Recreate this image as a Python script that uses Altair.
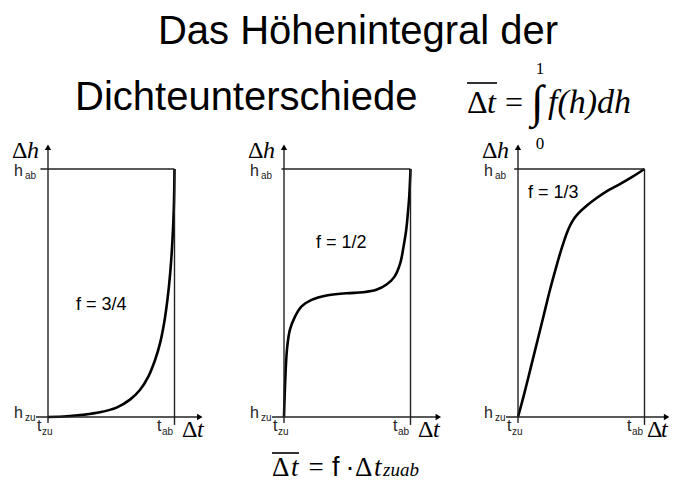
import altair as alt
import pandas as pd

# ---------------- data ----------------
TITLE_LINE1 = "Das Höhenintegral der"
TITLE_LINE2 = "Dichteunterschiede"
F_LABELS = ["f = 3/4", "f = 1/2", "f = 1/3"]

# normalised curves: t = Δt / Δt_zuab , h = Δh / Δh_zuab
T1 = [0, 0.15, 0.278, 0.41, 0.542, 0.648, 0.728, 0.794, 0.847, 0.886, 0.918, 0.944, 0.966, 0.984, 0.995, 1.0]
H1 = [0, 0.003, 0.009, 0.019, 0.038, 0.07, 0.11, 0.164, 0.231, 0.298, 0.379, 0.472, 0.58, 0.714, 0.848, 1.0]
T2 = [0, 0.005, 0.016, 0.026, 0.047, 0.087, 0.139, 0.218, 0.336, 0.493, 0.625, 0.73, 0.808, 0.874, 0.919, 0.945, 0.966, 0.979, 0.99, 1.0]
H2 = [0, 0.083, 0.217, 0.285, 0.352, 0.405, 0.446, 0.472, 0.49, 0.499, 0.503, 0.513, 0.533, 0.566, 0.62, 0.687, 0.754, 0.821, 0.889, 1.0]
T3 = [0, 0.044, 0.097, 0.149, 0.201, 0.253, 0.305, 0.33, 0.358, 0.385, 0.41, 0.44, 0.475, 0.54, 0.619, 0.697, 0.802, 0.906, 1.0]
H3 = [0, 0.083, 0.191, 0.298, 0.405, 0.513, 0.61, 0.655, 0.70, 0.74, 0.77, 0.797, 0.82, 0.851, 0.882, 0.909, 0.938, 0.969, 1.0]
CURVES = [(T1, H1), (T2, H2), (T3, H3)]

# ---------------- layout ----------------
W, H = 662, 475
UX, UY = 126.5, 248.0          # px per unit
ORIGIN_PX, ORIGIN_PY = 48, 417  # page px of panel-1 origin
XMIN = (8 - ORIGIN_PX) / UX
XMAX = XMIN + W / UX
YMIN = (ORIGIN_PY - 483) / UY
YMAX = (ORIGIN_PY - 8) / UY
OFFSETS = [0.0, (284 - 48) / UX, (518 - 48) / UX]
ARROW_X = [1.225, 1.245, 1.2]
ARROW_Y = 1.10
TOP_LEFT = [-0.06, -0.02, -0.03]

SANS = "Liberation Sans"
SERIF = "Liberation Serif"

xs = alt.Scale(domain=[XMIN, XMAX], nice=False, zero=False)
ys = alt.Scale(domain=[YMIN, YMAX], nice=False, zero=False)


def X(f):
    return alt.X(f, type="quantitative", scale=xs, axis=None)


def Y(f):
    return alt.Y(f, type="quantitative", scale=ys, axis=None)


layers = []

# curves
rows = []
for p, (ts, hs) in enumerate(CURVES):
    for i, (t, h) in enumerate(zip(ts, hs)):
        rows.append({"p": p, "i": i, "x": t + OFFSETS[p], "y": h})
curve_df = pd.DataFrame(rows)
layers.append(
    alt.Chart(curve_df).mark_line(color="black", strokeWidth=2.6, interpolate="catmull-rom").encode(
        x=X("x"), y=Y("y"), detail="p:N", order="i:Q"
    )
)

# frame lines
frows = []
for p in range(3):
    o = OFFSETS[p]
    frows.append({"x": o + TOP_LEFT[p], "x2": o + 1.0, "y": 1.0, "y2": 1.0})
    frows.append({"x": o - 0.095, "x2": o + ARROW_X[p] - 0.02, "y": 0.0, "y2": 0.0})
    frows.append({"x": o, "x2": o, "y": -0.024, "y2": ARROW_Y - 0.02})
    frows.append({"x": o + 1.0, "x2": o + 1.0, "y": -0.032, "y2": 1.0})
frame_df = pd.DataFrame(frows)
layers.append(
    alt.Chart(frame_df).mark_rule(color="#222", strokeWidth=1.4).encode(
        x=X("x"), x2="x2:Q", y=Y("y"), y2="y2:Q"
    )
)

# arrow heads
arows = []
for p in range(3):
    o = OFFSETS[p]
    arows.append({"x": o + ARROW_X[p] - 0.025, "y": 0.0, "shape": "triangle-right"})
    arows.append({"x": o, "y": ARROW_Y - 0.012, "shape": "triangle-up"})
arrow_df = pd.DataFrame(arows)
layers.append(
    alt.Chart(arrow_df).mark_point(filled=True, color="black", size=40, opacity=1).encode(
        x=X("x"), y=Y("y"), shape=alt.Shape("shape:N", scale=None)
    )
)


def panel_text(text, dx_list, py_list, size, font=SANS, style="normal", color="black", align="left"):
    df = pd.DataFrame({
        "s": [text[p] if isinstance(text, list) else text for p in range(3)],
        "x": [OFFSETS[p] + dx_list[p] / UX for p in range(3)],
        "y": [(ORIGIN_PY - py_list[p]) / UY for p in range(3)],
    })
    return alt.Chart(df).mark_text(
        font=font, fontSize=size, fontStyle=style, color=color, align=align, baseline="alphabetic"
    ).encode(x=X("x"), y=Y("y"), text="s:N")


same = lambda v: [v, v, v]
# Δh axis titles
layers.append(panel_text("Δ", same(-36), same(158), 24, SERIF))
layers.append(panel_text("h", same(-21), same(158), 24, SERIF, "italic"))
# h_ab / h_zu
layers.append(panel_text("h", same(-34), same(176), 16, SANS, color="#222"))
layers.append(panel_text("ab", same(-23), same(179), 10, SANS, color="#222"))
layers.append(panel_text("h", same(-34), same(418), 16, SANS, color="#222"))
layers.append(panel_text("zu", same(-23), same(421), 10, SANS, color="#222"))
# t_zu / t_ab
layers.append(panel_text("t", same(-11), same(431), 16, SANS, color="#222"))
layers.append(panel_text("zu", same(-6), same(435), 10, SANS, color="#222"))
layers.append(panel_text("t", same(109), same(431), 16, SANS, color="#222"))
layers.append(panel_text("ab", same(114), same(435), 10, SANS, color="#222"))
# Δt axis titles
layers.append(panel_text("Δ", [134, 134, 129], same(437), 24, SERIF))
layers.append(panel_text("t", [149, 149, 143], same(437), 24, SERIF, "italic"))
# f labels
layers.append(panel_text(F_LABELS, [28, 32, 10], [310, 248, 198], 18, SANS))


def ptext(s, px, py, size, font=SANS, style="normal", align="left"):
    return alt.Chart(pd.DataFrame({"s": [s]})).mark_text(
        font=font, fontSize=size, fontStyle=style, align=align, baseline="alphabetic", color="black"
    ).encode(x=alt.value(px - 8), y=alt.value(py - 8), text="s:N")


def hline(px1, px2, py, w=1.6):
    return alt.Chart(pd.DataFrame({"a": [0]})).mark_rule(color="black", strokeWidth=w).encode(
        x=alt.value(px1 - 8), x2=alt.value(px2 - 8), y=alt.value(py - 8)
    )


# title
layers.append(ptext(TITLE_LINE1, 358, 44, 40, SANS, align="center"))
layers.append(ptext(TITLE_LINE2, 75, 110, 40, SANS))
# formula  mean Δt = ∫0^1 f(h) dh
layers.append(hline(467, 497, 83))
layers.append(ptext("Δ", 467, 113, 32, SERIF))
layers.append(ptext("t", 487, 113, 32, SERIF, "italic"))
layers.append(ptext("=", 514, 113, 32, SERIF, align="center"))
layers.append(ptext("∫", 531, 117, 46, SERIF))
layers.append(ptext("1", 540, 74, 17, SERIF, align="center"))
layers.append(ptext("0", 540, 149, 17, SERIF, align="center"))
layers.append(ptext("f(h)dh", 548, 113, 34, SERIF, "italic"))
# footer  mean Δt = f · Δt_zuab
layers.append(hline(272, 299, 453))
layers.append(ptext("Δ", 272, 476, 27, SERIF))
layers.append(ptext("t", 291, 476, 27, SERIF, "italic"))
layers.append(ptext("=", 316, 476, 27, SERIF, align="center"))
layers.append(ptext("f", 332, 476, 27, SANS))
layers.append(ptext("·", 350, 476, 27, SANS, align="center"))
layers.append(ptext("Δ", 355, 476, 27, SERIF))
layers.append(ptext("t", 374, 476, 27, SERIF, "italic"))
layers.append(ptext("zuab", 383, 476, 19, SERIF, "italic"))

chart = alt.layer(*layers).properties(
    width=W, height=H, autosize=alt.AutoSizeParams(type="none"), padding=0, background="white"
).configure_view(stroke=None)

chart.save("out.html", embed_options={"renderer": "svg", "actions": False})
